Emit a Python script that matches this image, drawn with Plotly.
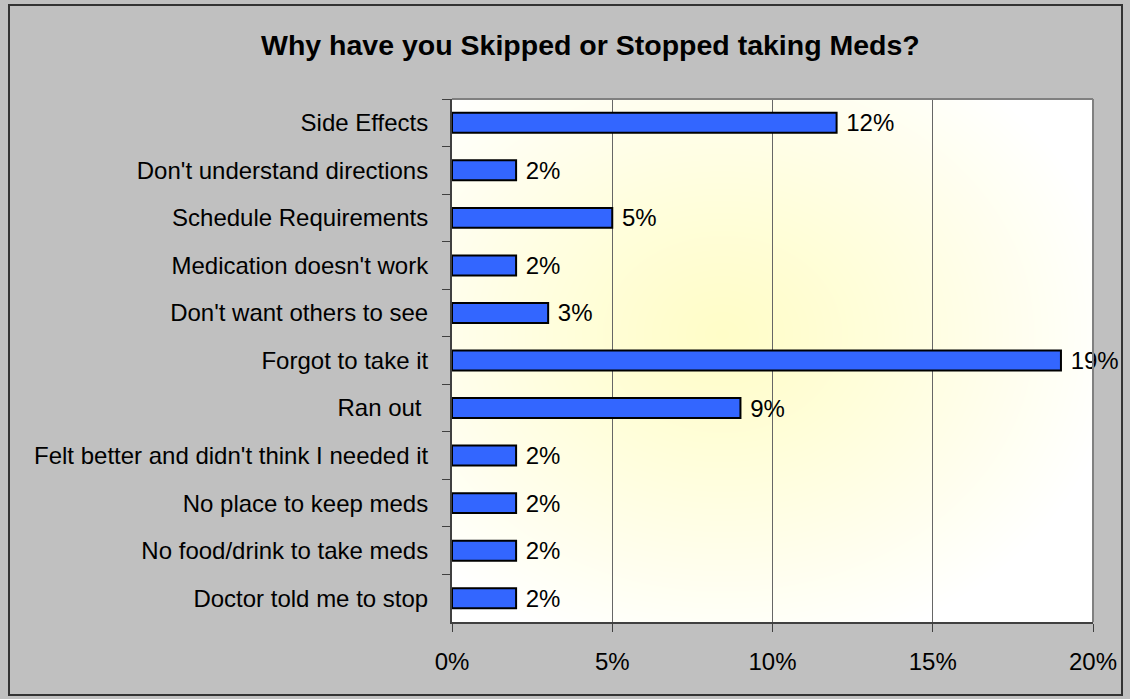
import base64, struct, zlib
import numpy as np
import plotly.graph_objects as go

categories = [
    "Side Effects",
    "Don't understand directions",
    "Schedule Requirements",
    "Medication doesn't work",
    "Don't want others to see",
    "Forgot to take it",
    "Ran out ",
    "Felt better and didn't think I needed it",
    "No place to keep meds",
    "No food/drink to take meds",
    "Doctor told me to stop",
]
values = [12, 2, 5, 2, 3, 19, 9, 2, 2, 2, 2]
tick_vals = [0, 5, 10, 15, 20]
tick_text = ["0%", "5%", "10%", "15%", "20%"]
title_text = "Why have you Skipped or Stopped taking Meds?"

W, H = 1130, 699
L, R, T, B = 452, 37, 99, 77
PW, PH = W - L - R, H - T - B
FONT = "Liberation Sans, Arial, sans-serif"


def png_data_uri(arr):
    h, w, _ = arr.shape
    raw = b"".join(b"\x00" + arr[i].tobytes() for i in range(h))
    def chunk(tag, data):
        c = struct.pack(">I", len(data)) + tag + data
        return c + struct.pack(">I", zlib.crc32(tag + data) & 0xFFFFFFFF)
    png = b"\x89PNG\r\n\x1a\n" + chunk(b"IHDR", struct.pack(">IIBBBBB", w, h, 8, 2, 0, 0, 0)) \
        + chunk(b"IDAT", zlib.compress(raw, 9)) + chunk(b"IEND", b"")
    return "data:image/png;base64," + base64.b64encode(png).decode()


# radial yellow glow for the plot area background
yy, xx = np.mgrid[0:PH, 0:PW].astype(float)
cx, cy, rx, ry = 270.0, 235.0, 400.0, 330.0
t = np.clip(np.sqrt(((xx - cx) / rx) ** 2 + ((yy - cy) / ry) ** 2), 0, 1)
t = t ** 1.15
center = np.array([255.0, 253.0, 200.0])
white = np.array([255.0, 255.0, 255.0])
img = (center[None, None, :] * (1 - t[..., None]) + white[None, None, :] * t[..., None]).round().astype(np.uint8)
glow = png_data_uri(img)

fig = go.Figure(
    go.Bar(
        x=values,
        y=categories,
        orientation="h",
        marker=dict(color="#3366ff", line=dict(color="#000000", width=2)),
        texttemplate=" %{x:.0f}%",
        textposition="outside",
        textfont=dict(family=FONT, size=24, color="#000000"),
        constraintext="none",
        cliponaxis=False,
        hoverinfo="skip",
    )
)


def px_x(p):
    return (p - L) / PW


def px_y(p):
    return (H - B - p) / PH


fig.update_layout(
    width=W,
    height=H,
    margin=dict(l=L, r=R, t=T, b=B, pad=0),
    paper_bgcolor="#c0c0c0",
    plot_bgcolor="rgba(0,0,0,0)",
    showlegend=False,
    bargap=0.58,
    font=dict(family=FONT, size=24, color="#000000"),
    xaxis=dict(
        range=[0, 20],
        tickvals=tick_vals,
        ticktext=tick_text,
        showgrid=True,
        gridcolor="#666666",
        gridwidth=1,
        zeroline=False,
        showline=True,
        linecolor="#404040",
        linewidth=2,
        ticks="outside",
        ticklen=8,
        tickcolor="#404040",
        tickwidth=1,
        ticklabelstandoff=9,
        tickfont=dict(family=FONT, size=24, color="#000000"),
        fixedrange=True,
    ),
    yaxis=dict(
        autorange="reversed",
        showgrid=False,
        showline=True,
        linecolor="#404040",
        linewidth=2,
        ticks="outside",
        tickson="boundaries",
        ticklen=8,
        tickcolor="#404040",
        tickwidth=1,
        ticklabelstandoff=17,
        tickfont=dict(family=FONT, size=24, color="#000000"),
        fixedrange=True,
    ),
    images=[
        dict(source=glow, xref="paper", yref="paper", x=0, y=1, sizex=1, sizey=1,
             sizing="stretch", xanchor="left", yanchor="top", layer="below")
    ],
    shapes=[
        # plot-area top and right border
        dict(type="line", xref="paper", yref="paper", x0=0, x1=1, y0=1, y1=1,
             line=dict(color="#808080", width=2)),
        dict(type="line", xref="paper", yref="paper", x0=1, x1=1, y0=0, y1=1,
             line=dict(color="#808080", width=2)),
        # outer chart border
        dict(type="rect", xref="paper", yref="paper",
             x0=px_x(9), x1=px_x(1122), y0=px_y(695), y1=px_y(5),
             line=dict(color="#333333", width=2), fillcolor="rgba(0,0,0,0)", layer="below"),
    ],
    annotations=[
        dict(text="<b>" + title_text + "</b>", xref="paper", yref="paper",
             x=px_x(590), y=px_y(45), xanchor="center", yanchor="middle",
             showarrow=False, font=dict(family=FONT, size=28.5, color="#000000")),
    ],
)

fig.write_html(
    "out.html",
    config={"displayModeBar": False},
    post_script="document.body.style.margin='0';document.body.style.padding='0';",
)
